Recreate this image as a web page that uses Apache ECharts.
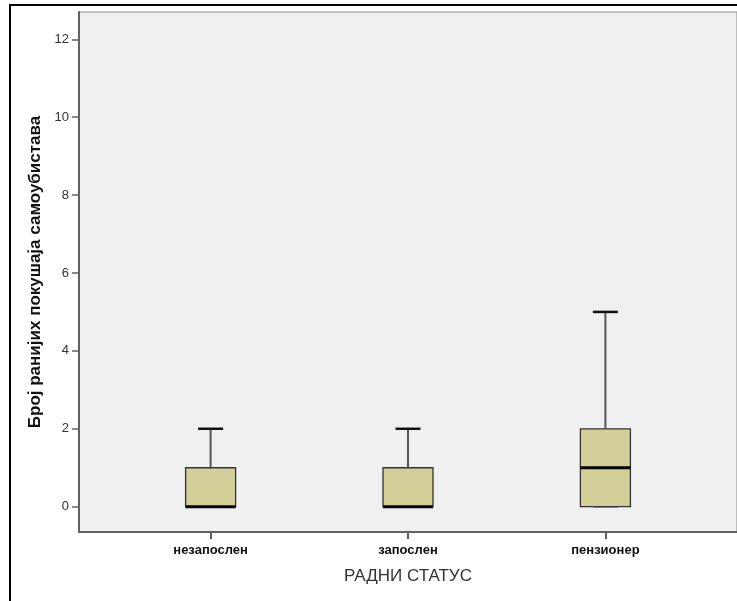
<!DOCTYPE html>
<html>
<head>
<meta charset="utf-8">
<script src="https://cdn.jsdelivr.net/npm/echarts@6/dist/echarts.min.js"></script>
<style>
html,body{margin:0;padding:0;background:#fff;}
#chart{width:737px;height:601px;}
</style>
</head>
<body>
<div id="chart"></div>
<script>
// ---- data ----
const categories = ['незапослен', 'запослен', 'пензионер'];
const minVals    = [0, 0, 0];
const q1Vals     = [0, 0, 0];
const medianVals = [0, 0, 1];
const q3Vals     = [1, 1, 2];
const maxVals    = [2, 2, 5];
const yTicks     = [0, 2, 4, 6, 8, 10, 12];
const yTitle = 'Број ранијих покушаја самоубистава';
const xTitle = 'РАДНИ СТАТУС';

const FONT = '"Liberation Sans", Arial, "DejaVu Sans", sans-serif';
const BOX_W = 50, CAP_W = 25;

const seriesData = categories.map((c, i) =>
  [i + 1, minVals[i], q1Vals[i], medianVals[i], q3Vals[i], maxVals[i]]);

const chart = echarts.init(document.getElementById('chart'));
chart.setOption({
  animation: false,
  backgroundColor: '#ffffff',
  graphic: [{
    type: 'rect',
    shape: { x: 10, y: 5, width: 900, height: 800 },
    style: { fill: 'none', stroke: '#000', lineWidth: 2 },
    z: 100
  }],
  grid: {
    left: 79, top: 12, width: 660, height: 520,
    show: true, backgroundColor: '#f0f0f0', borderColor: '#8a8a8a', borderWidth: 1
  },
  xAxis: {
    type: 'value',
    min: 1 / 3, max: 11 / 3,
    name: xTitle, nameLocation: 'middle', nameGap: 36,
    nameTextStyle: { fontFamily: FONT, fontSize: 17, color: '#333' },
    axisLine: { show: true, onZero: false, lineStyle: { color: '#606060', width: 2 } },
    axisTick: { show: true, length: 7, customValues: [1, 2, 3], lineStyle: { color: '#606060', width: 2 } },
    axisLabel: {
      customValues: [1, 2, 3], margin: 12,
      formatter: v => categories[Math.round(v) - 1] || '',
      fontFamily: FONT, fontSize: 13, fontWeight: 'bold', color: '#111'
    },
    splitLine: { show: false }
  },
  yAxis: {
    type: 'value',
    min: -0.65, max: 12.70,
    name: yTitle, nameLocation: 'middle', nameGap: 34, nameRotate: 90,
    nameTextStyle: { fontFamily: FONT, fontSize: 17, fontWeight: 'bold', color: '#111' },
    axisLine: { show: true, lineStyle: { color: '#606060', width: 2 } },
    axisTick: { show: true, length: 7, customValues: yTicks, lineStyle: { color: '#606060', width: 1.5 } },
    axisLabel: { customValues: yTicks, margin: 10, fontFamily: FONT, fontSize: 13, color: '#333' },
    splitLine: { show: false }
  },
  series: [{
    type: 'custom',
    data: seriesData,
    encode: { x: 0, y: [1, 2, 3, 4, 5] },
    renderItem: function (params, api) {
      const x = api.value(0);
      const cx = api.coord([x, 0])[0];
      const yMin = api.coord([x, api.value(1)])[1];
      const yQ1 = api.coord([x, api.value(2)])[1];
      const yMed = api.coord([x, api.value(3)])[1];
      const yQ3 = api.coord([x, api.value(4)])[1];
      const yMax = api.coord([x, api.value(5)])[1];
      const hw = BOX_W / 2, cw = CAP_W / 2;
      const whisk = { stroke: '#555', lineWidth: 2 };
      const cap = { stroke: '#111', lineWidth: 2.5 };
      return {
        type: 'group',
        children: [
          { type: 'line', shape: { x1: cx, y1: yQ3, x2: cx, y2: yMax }, style: whisk },
          { type: 'line', shape: { x1: cx, y1: yQ1, x2: cx, y2: yMin }, style: whisk },
          { type: 'line', shape: { x1: cx - cw, y1: yMax, x2: cx + cw, y2: yMax }, style: cap },
          { type: 'line', shape: { x1: cx - cw, y1: yMin, x2: cx + cw, y2: yMin }, style: { stroke: '#777', lineWidth: 2 } },
          { type: 'rect', shape: { x: cx - hw, y: yQ3, width: BOX_W, height: yQ1 - yQ3 },
            style: { fill: '#d3cf98', stroke: '#333', lineWidth: 1.3 } },
          { type: 'line', shape: { x1: cx - hw, y1: yMed, x2: cx + hw, y2: yMed }, style: { stroke: '#000', lineWidth: 3 } }
        ]
      };
    }
  }]
});
</script>
</body>
</html>
